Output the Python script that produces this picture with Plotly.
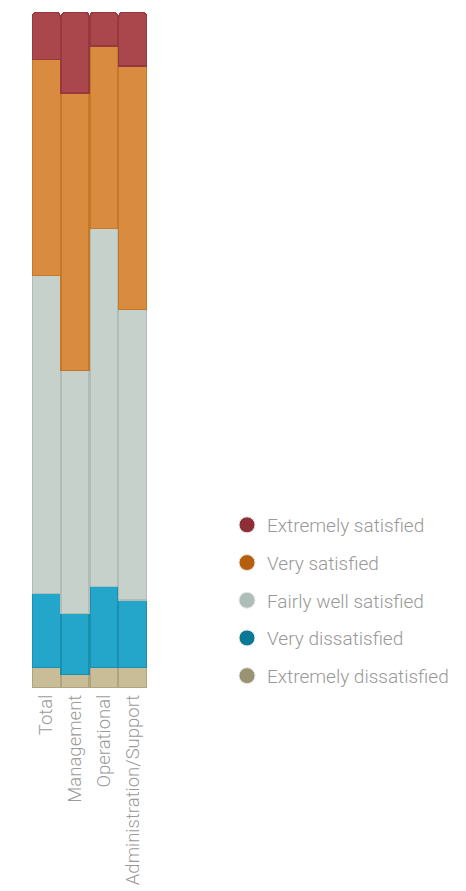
import plotly.graph_objects as go

categories = ["Total", "Management", "Operational", "Administration/Support"]
series_names = ["Extremely dissatisfied", "Very dissatisfied", "Fairly well satisfied",
                "Very satisfied", "Extremely satisfied"]
extremely_dissatisfied = [3, 2, 3, 3]
very_dissatisfied = [11, 9, 12, 10]
fairly_well_satisfied = [47, 36, 53, 43]
very_satisfied = [32, 41, 27, 36]
extremely_satisfied = [7, 12, 5, 8]

values = [extremely_dissatisfied, very_dissatisfied, fairly_well_satisfied,
          very_satisfied, extremely_satisfied]
bar_colors = ["#c9bd98", "#23a6c9", "#c6d1cc", "#d98b40", "#a9474d"]
edge_colors = ["#b0a47f", "#1a90b0", "#b0bcb6", "#c77826", "#96383e"]
legend_colors = ["#9a9373", "#0a7896", "#aebdb7", "#b85f0f", "#8e2f35"]

fig = go.Figure()
for name, vals, c, ec in zip(series_names, values, bar_colors, edge_colors):
    fig.add_trace(go.Bar(
        x=categories, y=vals, name=name, marker=dict(color=c, line=dict(color=ec, width=1.5)),
        showlegend=False, hoverinfo="x+y+name"))

# legend entries with round markers (top to bottom), on a hidden helper axis
for name, lc in reversed(list(zip(series_names, legend_colors))):
    fig.add_trace(go.Scatter(
        x=[0.5], y=[-5], mode="markers", name=name, legendgroup=name,
        xaxis="x2", yaxis="y2", hoverinfo="skip",
        marker=dict(color=lc, size=18, symbol="circle",
                    line=dict(color="#e8e8e8", width=1))))

fig.update_layout(
    width=466, height=891,
    margin=dict(l=32, r=319, t=12, b=203, autoexpand=False),
    barmode="stack", bargap=0.03, barcornerradius=5,
    paper_bgcolor="white", plot_bgcolor="white",
    font=dict(family="Roboto", color="#999999"),
    xaxis=dict(tickangle=-90, tickfont=dict(size=18.5, color="#9a9a9a", weight=300),
               showgrid=False, zeroline=False, showline=False, ticks="", ticklen=0,
               ticklabelstandoff=2, domain=[0, 1]),
    yaxis=dict(range=[0, 100], visible=False),
    xaxis2=dict(range=[0, 1], visible=False, anchor="y2", overlaying="x"),
    yaxis2=dict(range=[0, 1], visible=False, anchor="x2", overlaying="y"),
    legend=dict(xref="container", yref="container", x=227 / 466, y=1 - 506 / 891,
                xanchor="left", yanchor="top", traceorder="grouped", tracegroupgap=10,
                font=dict(size=19, color="#999999", weight=300), itemsizing="trace",
                bgcolor="rgba(0,0,0,0)"),
)

fig.write_html("out.html")
